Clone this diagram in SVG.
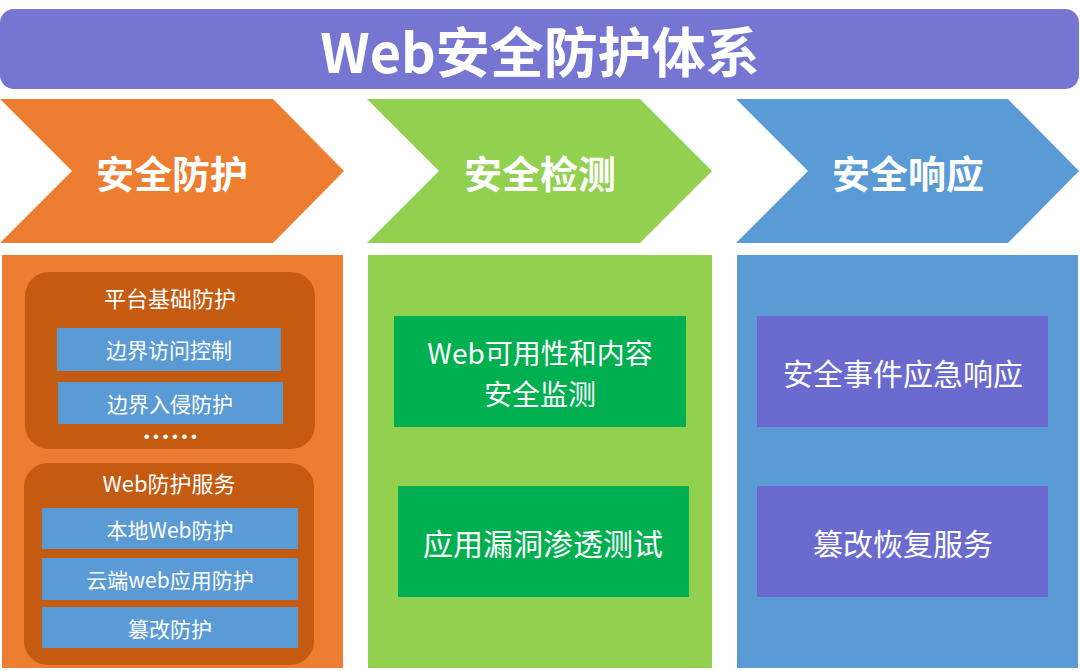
<svg xmlns="http://www.w3.org/2000/svg" width="1080" height="671" viewBox="0 0 1080 671">
<style>
text{font-family:"Microsoft YaHei","Noto Sans CJK SC","Noto Sans",sans-serif;fill:#fff;text-anchor:middle;dominant-baseline:central}
.title{font-size:54px;font-weight:bold}
.chev{font-size:38px;font-weight:bold}
.hdr{font-size:22px}
.item{font-size:21px}
.big{font-size:30px}
.two{font-size:28px}
.dots{font-family:"Liberation Sans",sans-serif;font-size:17px;letter-spacing:3.5px}
.ob{fill:#c55a11}
.bb{fill:#5b9bd5}
.gb{fill:#00b050}
.pb{fill:#6b6bcf}
</style>
<rect width="1080" height="671" fill="#fff"/>
<g id="title">
<rect x="0" y="9" width="1079" height="80" rx="14" fill="#7676d2"/>
<text class="title" x="540" y="49">Web安全防护体系</text>
</g>
<g id="chevron-protect">
<polygon points="0,99 273,99 344,171 273,243 0,243 72,171" fill="#ed7d31"/>
<text class="chev" x="172" y="171">安全防护</text>
</g>
<g id="chevron-detect">
<polygon points="367,99 640,99 712,171 640,243 367,243 439,171" fill="#92d050"/>
<text class="chev" x="540" y="171">安全检测</text>
</g>
<g id="chevron-respond">
<polygon points="736,99 1008,99 1079,171 1008,243 736,243 808,171" fill="#5b9bd5"/>
<text class="chev" x="908" y="171">安全响应</text>
</g>
<g id="panel-protect">
<rect x="2" y="255" width="341" height="413" fill="#ed7d31"/>
</g>
<g id="platform">
<rect class="ob" x="25" y="272" width="290" height="177" rx="24"/>
<text class="hdr" x="170" y="297">平台基础防护</text>
<text class="dots" x="172" y="436">••••••</text>
</g>
<g id="n-access">
<rect class="bb" x="57" y="328" width="224" height="43"/>
<text class="item" x="169" y="349">边界访问控制</text>
</g>
<g id="n-intrusion">
<rect class="bb" x="58" y="382" width="225" height="42"/>
<text class="item" x="170" y="403">边界入侵防护</text>
</g>
<g id="webprotect">
<rect class="ob" x="24" y="463" width="290" height="202" rx="24"/>
<text class="hdr" x="169" y="482">Web防护服务</text>
</g>
<g id="n-local">
<rect class="bb" x="42" y="508" width="256" height="41"/>
<text class="item" x="170" y="529">本地Web防护</text>
</g>
<g id="n-cloud">
<rect class="bb" x="42" y="558" width="256" height="42"/>
<text class="item" x="170" y="579">云端web应用防护</text>
</g>
<g id="n-tamper">
<rect class="bb" x="42" y="607" width="256" height="41"/>
<text class="item" x="170" y="628">篡改防护</text>
</g>
<g id="panel-detect">
<rect x="368" y="255" width="344" height="413" fill="#92d050"/>
</g>
<g id="n-monitor">
<rect class="gb" x="394" y="316" width="292" height="111"/>
<text class="two"><tspan x="540" y="352">Web可用性和内容</tspan><tspan x="540" y="393">安全监测</tspan></text>
</g>
<g id="n-pentest">
<rect class="gb" x="398" y="486" width="291" height="111"/>
<text class="big" x="543" y="542">应用漏洞渗透测试</text>
</g>
<g id="panel-respond">
<rect x="737" y="255" width="341" height="413" fill="#5b9bd5"/>
</g>
<g id="n-incident">
<rect class="pb" x="757" y="316" width="291" height="111"/>
<text class="big" x="903" y="372">安全事件应急响应</text>
</g>
<g id="n-restore">
<rect class="pb" x="757" y="486" width="291" height="111"/>
<text class="big" x="903" y="542">篡改恢复服务</text>
</g>
<g id="connectors"></g>
</svg>
